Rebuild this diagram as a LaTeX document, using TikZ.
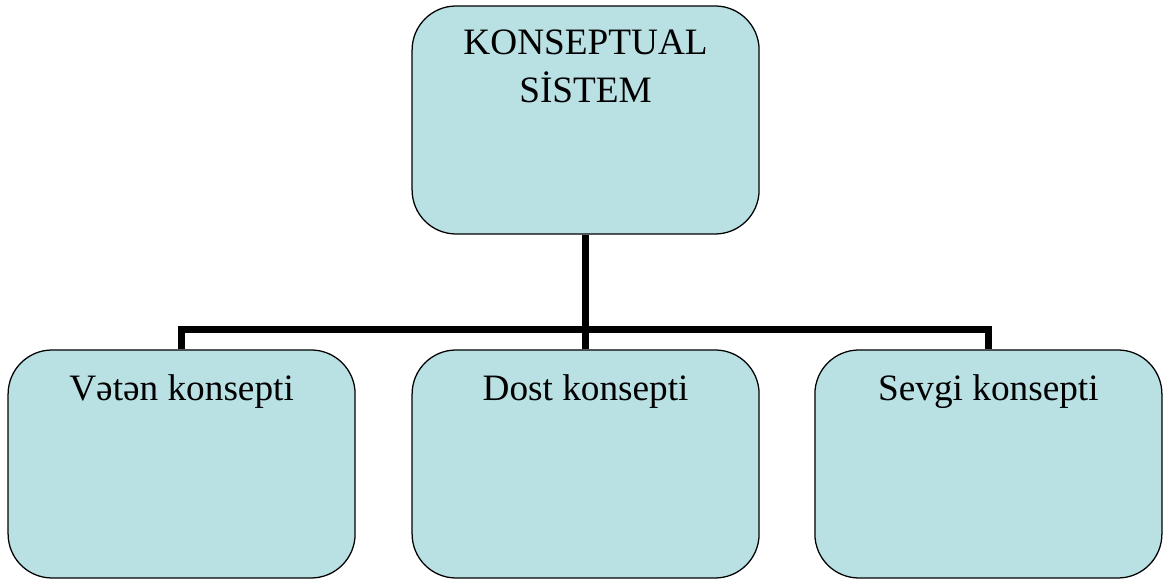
\documentclass[tikz,border=0pt]{standalone}
\usepackage{fontspec}
\setmainfont{Liberation Serif}
\usetikzlibrary{positioning, calc}
\definecolor{boxblue}{RGB}{185,224,227}

\begin{document}
\begin{tikzpicture}[
    box/.style={rectangle, draw=black, line width=0.9pt, fill=boxblue,
                minimum width=8.675cm, minimum height=5.7cm, rounded corners=1.1cm},
    label/.style={anchor=base, align=center, font=\fontsize{26.5}{34}\selectfont},
    link/.style={line width=4.5pt}
]
    \useasboundingbox (0, 0) rectangle (29.225, 14.55);

    % === Boxes ===
    \node[box] (system) at (14.64, 11.55) {};
    \node[box] (veten) at (4.54, 2.95) {};
    \node[box] (dost) at (14.64, 2.95) {};
    \node[box] (sevgi) at (24.71, 2.95) {};

    % === Texts ===
    \node[label] (systemtext) at ($(system.north) + (0, -2.43)$) {KONSEPTUAL\\SİSTEM};
    \node[label] (vetentext) at ($(veten.north) + (0, -1.28)$) {Vətən konsepti};
    \node[label] (dosttext) at ($(dost.north) + (0, -1.28)$) {Dost konsepti};
    \node[label] (sevgitext) at ($(sevgi.north) + (0, -1.28)$) {Sevgi konsepti};

    % === Connectors ===
    \draw[link] (system.south) -- (dost.north);
    \draw[link] (veten.north) -- ++(0, 0.5) -| (sevgi.north);

\end{tikzpicture}
\end{document}
